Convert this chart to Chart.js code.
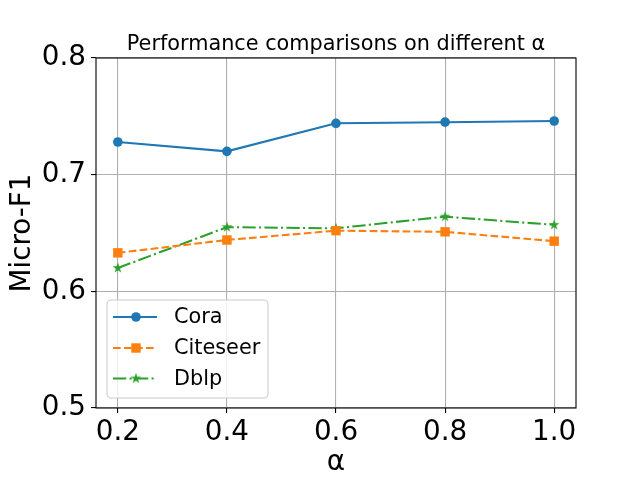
<!DOCTYPE html>
<html>
<head>
<meta charset="utf-8">
<script src="https://cdn.jsdelivr.net/npm/chart.js@4.4.1/dist/chart.umd.min.js"></script>
<style>
  html, body { margin: 0; padding: 0; background: #fff; }
  canvas { display: block; }
</style>
</head>
<body>
<canvas id="chart" width="640" height="480"></canvas>
<script>
// values
const alphas = [0.2, 0.4, 0.6, 0.8, 1.0];
const cora = [0.728, 0.720, 0.744, 0.745, 0.746];
const citeseer = [0.633, 0.644, 0.652, 0.651, 0.643];
const dblp = [0.620, 0.655, 0.654, 0.664, 0.657];
const yTicks = [0.5, 0.6, 0.7, 0.8];
const seriesNames = ['Cora', 'Citeseer', 'Dblp'];

const FONT = "'DejaVu Sans', 'Liberation Sans', sans-serif";
const BLUE = '#1f77b4';
const ORANGE = '#ff7f0e';
const GREEN = '#2ca02c';
const LW = 2.08;
const CIRCLE_R = 4.8;
const SQUARE_HALF = 4.7;

/**
 * Build a filled five-point star on a small canvas, used as point style.
 * @param {number} r - Outer radius in px.
 * @param {string} color - Fill colour.
 * @returns {HTMLCanvasElement} Canvas with the star.
 */
function makeStar(r, color) {
  const size = Math.ceil(r * 2 + 2);
  const c = document.createElement('canvas');
  c.width = size;
  c.height = size;
  const g = c.getContext('2d');
  const cx = size / 2;
  const cy = size / 2;
  const inner = r * 0.38;
  g.beginPath();
  for (let i = 0; i < 10; i += 1) {
    const rad = i % 2 === 0 ? r : inner;
    const a = -Math.PI / 2 + (i * Math.PI) / 5;
    const px = cx + rad * Math.cos(a);
    const py = cy + rad * Math.sin(a);
    if (i === 0) g.moveTo(px, py); else g.lineTo(px, py);
  }
  g.closePath();
  g.fillStyle = color;
  g.fill();
  return c;
}

const star = makeStar(5.6, GREEN);

const toPoints = (values) => values.map((v, i) => ({ x: alphas[i], y: v }));

const datasets = [
  {
    label: seriesNames[0],
    data: toPoints(cora),
    borderColor: BLUE,
    backgroundColor: BLUE,
    borderWidth: LW,
    pointStyle: 'circle',
    pointRadius: CIRCLE_R,
    pointBorderWidth: 0,
  },
  {
    label: seriesNames[1],
    data: toPoints(citeseer),
    borderColor: ORANGE,
    backgroundColor: ORANGE,
    borderWidth: LW,
    borderDash: [7.7, 3.3],
    pointStyle: 'rect',
    pointRadius: SQUARE_HALF / Math.SQRT1_2,
    pointBorderWidth: 0,
  },
  {
    label: seriesNames[2],
    data: toPoints(dblp),
    borderColor: GREEN,
    backgroundColor: GREEN,
    borderWidth: LW,
    borderDash: [13.3, 3.3, 2.1, 3.3],
    pointStyle: star,
    pointRadius: 5,
    pointBorderWidth: 0,
  },
];

/**
 * Title, axes frame and an inside legend like matplotlib draws them.
 */
const decorations = {
  id: 'decorations',
  afterDraw(chart) {
    const { ctx, chartArea: a } = chart;
    ctx.save();

    // frame
    ctx.strokeStyle = '#000';
    ctx.lineWidth = 1.1;
    ctx.setLineDash([]);
    ctx.strokeRect(a.left, a.top, a.right - a.left, a.bottom - a.top);

    // title
    ctx.fillStyle = '#000';
    ctx.font = `20.8px ${FONT}`;
    ctx.textAlign = 'center';
    ctx.textBaseline = 'alphabetic';
    ctx.fillText('Performance comparisons on different α', (a.left + a.right) / 2, a.top - 8.5);

    // legend box
    const bx = 107;
    const by = 300;
    const bw = 161;
    const bh = 98;
    const r = 4;
    ctx.beginPath();
    ctx.moveTo(bx + r, by);
    ctx.arcTo(bx + bw, by, bx + bw, by + bh, r);
    ctx.arcTo(bx + bw, by + bh, bx, by + bh, r);
    ctx.arcTo(bx, by + bh, bx, by, r);
    ctx.arcTo(bx, by, bx + bw, by, r);
    ctx.closePath();
    ctx.fillStyle = 'rgba(255,255,255,0.8)';
    ctx.fill();
    ctx.strokeStyle = '#cccccc';
    ctx.lineWidth = 1.1;
    ctx.stroke();

    const rows = [317, 348, 378.5];
    chart.data.datasets.forEach((ds, i) => {
      const y = rows[i];
      ctx.beginPath();
      ctx.setLineDash(ds.borderDash || []);
      ctx.strokeStyle = ds.borderColor;
      ctx.lineWidth = LW;
      ctx.moveTo(113, y);
      ctx.lineTo(157, y);
      ctx.stroke();
      ctx.setLineDash([]);
      ctx.fillStyle = ds.backgroundColor;
      if (ds.pointStyle === 'circle') {
        ctx.beginPath();
        ctx.arc(136, y, CIRCLE_R, 0, Math.PI * 2);
        ctx.fill();
      } else if (ds.pointStyle === 'rect') {
        ctx.fillRect(136 - SQUARE_HALF, y - SQUARE_HALF, SQUARE_HALF * 2, SQUARE_HALF * 2);
      } else {
        ctx.drawImage(star, 136 - star.width / 2, y - star.height / 2);
      }
      ctx.fillStyle = '#000';
      ctx.font = `20.8px ${FONT}`;
      ctx.textAlign = 'left';
      ctx.textBaseline = 'middle';
      ctx.fillText(ds.label, 174, y + 1);
    });

    ctx.restore();
  },
};

new Chart(document.getElementById('chart'), {
  type: 'line',
  data: { datasets },
  options: {
    responsive: false,
    animation: false,
    devicePixelRatio: 1,
    layout: { padding: { top: 58, right: 64, left: 0, bottom: 0 } },
    plugins: {
      legend: { display: false },
      title: { display: false },
      tooltip: { enabled: false },
    },
    scales: {
      x: {
        type: 'linear',
        min: 0.16,
        max: 1.04,
        afterBuildTicks: (scale) => { scale.ticks = alphas.map((v) => ({ value: v })); },
        afterFit: (scale) => { scale.height = 72; },
        grid: { color: '#b0b0b0', lineWidth: 1.1, tickLength: 5, tickColor: '#000', tickWidth: 1.1 },
        border: { display: false },
        ticks: {
          color: '#000',
          padding: 3,
          maxRotation: 0,
          font: { family: FONT, size: 27.8 },
          callback: (v) => v.toFixed(1),
        },
        title: {
          display: true,
          text: 'α',
          color: '#000',
          font: { family: FONT, size: 27.8 },
          padding: { top: 0, bottom: 1 },
        },
      },
      y: {
        min: 0.5,
        max: 0.8,
        afterBuildTicks: (scale) => { scale.ticks = yTicks.map((v) => ({ value: v })); },
        afterFit: (scale) => { scale.width = 96; },
        grid: { color: '#b0b0b0', lineWidth: 1.1, tickLength: 5, tickColor: '#000', tickWidth: 1.1 },
        border: { display: false },
        ticks: {
          color: '#000',
          padding: 5,
          font: { family: FONT, size: 27.8 },
          callback: (v) => v.toFixed(1),
        },
        title: {
          display: true,
          text: 'Micro-F1',
          color: '#000',
          font: { family: FONT, size: 27.8 },
          padding: { top: 6, bottom: 0 },
        },
      },
    },
  },
  plugins: [decorations],
});
</script>
</body>
</html>
